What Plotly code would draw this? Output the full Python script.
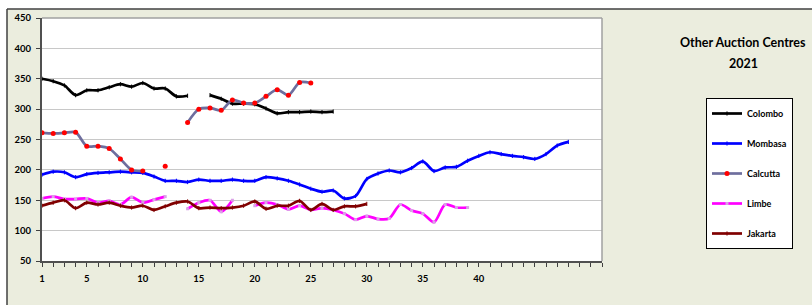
import plotly.graph_objects as go

weeks = list(range(1, 49))

colombo = [350, 346, 339, 323, 331, 331, 336, 341, 337, 343, 334, 334, 321, 322, None,
           323, 317, 309, 309, 308, 301, 293, 295, 295, 296, 295, 296]
mombasa = [192, 197, 196, 188, 193, 195, 196, 197, 196, 195, 189, 182, 182, 180, 184,
           182, 182, 184, 182, 182, 188, 186, 182, 176, 169, 164, 166, 153, 157, 185,
           194, 199, 196, 203, 214, 198, 204, 205, 215, 223, 229, 226, 223, 221, 218,
           226, 240, 246]
calcutta = [261, 260, 261, 262, 239, 239, 235, 218, 200, 198, None, 206, None, 278, 300,
            302, 298, 315, 310, 310, 321, 332, 323, 344, 343]
limbe = [153, 156, 152, 152, 153, 146, 149, 143, 155, 146, 151, 156, None, 136, 146,
         150, 131, 150, None, 141, 146, 143, 135, 141, 134, 137, 134, 128, 118, 124,
         119, 120, 143, 133, 128, 114, 143, 138, 138]
jakarta = [141, 146, 150, 137, 146, 143, 146, 141, 138, 141, 134, 140, 146, 148, 137,
           138, 137, 138, 141, 148, 136, 141, 141, 149, 134, 144, 134, 140, 140, 144]

x_tick_vals = list(range(1, 52))
x_tick_labels = ["1", "5", "10", "15", "20", "25", "30", "35", "40"]
y_tick_vals = [50, 100, 150, 200, 250, 300, 350, 400, 450]

title_line1 = "Other Auction Centres"
title_line2 = "2021"

FONT = "Lato"
BG = "#EBEDDE"

ticktext = [str(v) if str(v) in x_tick_labels else "" for v in x_tick_vals]

series = [
    ("Colombo", colombo, "#000000", dict(size=3, color="#000000", symbol="line-ns-open", line=dict(width=1, color="#000000"))),
    ("Mombasa", mombasa, "#0000FF", dict(size=3, color="#0000FF", symbol="line-ns-open", line=dict(width=1, color="#0000FF"))),
    ("Calcutta", calcutta, "#6E6E9E", dict(size=5, color="#FF0000", symbol="circle")),
    ("Limbe", limbe, "#FF00FF", dict(size=3, color="#D9A3E6", symbol="square")),
    ("Jakarta", jakarta, "#800000", dict(size=3, color="#800000", symbol="line-ns-open", line=dict(width=1, color="#800000"))),
]

fig = go.Figure()
for name, vals, col, mk in series:
    fig.add_trace(go.Scatter(
        x=weeks[:len(vals)], y=vals, name=name, legendgroup=name,
        mode="lines+markers",
        line=dict(color=col, width=2.7, shape="spline", smoothing=0.8),
        marker=mk,
    ))

W0, W1, H0, H1 = 42, 602, 18, 261


def px(x):
    return (x - W0) / (W1 - W0)


def py(y):
    return (H1 - y) / (H1 - H0)


shapes = [
    # white strips outside chart frame
    dict(type="rect", xref="paper", yref="paper", x0=px(-5), x1=px(7), y0=py(320), y1=py(-5),
         fillcolor="white", line=dict(width=0), layer="below"),
    dict(type="rect", xref="paper", yref="paper", x0=px(-5), x1=px(820), y0=py(9), y1=py(-5),
         fillcolor="white", line=dict(width=0), layer="below"),
    # chart frame
    dict(type="line", xref="paper", yref="paper", x0=px(7), x1=px(820), y0=py(9), y1=py(9),
         line=dict(color="#404040", width=1.5), layer="below"),
    dict(type="line", xref="paper", yref="paper", x0=px(7), x1=px(7), y0=py(9), y1=py(320),
         line=dict(color="#404040", width=1.5), layer="below"),
    # plot area border (top / right)
    dict(type="line", xref="paper", yref="paper", x0=0, x1=1, y0=1, y1=1,
         line=dict(color="#A0A0A0", width=1.5), layer="above"),
    dict(type="line", xref="paper", yref="paper", x0=1, x1=1, y0=0, y1=1,
         line=dict(color="#A0A0A0", width=1.5), layer="above"),
]

fig.update_layout(
    width=812, height=305,
    margin=dict(l=W0, r=812 - W1, t=H0, b=305 - H1, pad=0),
    paper_bgcolor=BG, plot_bgcolor="white",
    font=dict(family=FONT, color="#000000"),
    showlegend=True,
    legend=dict(
        x=px(706), y=py(98), xanchor="left", yanchor="top",
        bgcolor="white", bordercolor="#000000", borderwidth=1,
        font=dict(family=FONT, size=9, weight="bold", color="#000000"),
        traceorder="grouped", tracegroupgap=11, itemwidth=30,
    ),
    shapes=shapes,
    annotations=[
        dict(text=title_line1, xref="paper", yref="paper", x=px(743), y=py(43),
             xanchor="center", yanchor="middle", showarrow=False,
             font=dict(family=FONT, size=12.5, weight="bold", color="#000000")),
        dict(text=title_line2, xref="paper", yref="paper", x=px(743), y=py(63),
             xanchor="center", yanchor="middle", showarrow=False,
             font=dict(family=FONT, size=12.5, weight="bold", color="#000000")),
    ],
)

fig.update_xaxes(
    range=[1, 51], tickmode="array", tickvals=x_tick_vals, ticktext=ticktext,
    ticks="outside", ticklen=4, tickwidth=1, tickcolor="#404040",
    showline=True, linecolor="#505050", linewidth=2, showgrid=False, zeroline=False,
    tickfont=dict(family=FONT, size=9.5, weight="bold", color="#000000"),
    ticklabelstandoff=4,
)
fig.update_yaxes(
    range=[50, 450], tickmode="array", tickvals=y_tick_vals,
    ticks="outside", ticklen=4, tickwidth=1, tickcolor="#404040",
    showline=True, linecolor="#505050", linewidth=2,
    showgrid=True, gridcolor="#C8C8C8", gridwidth=1, zeroline=False,
    tickfont=dict(family=FONT, size=9.5, weight="bold", color="#000000"),
    ticklabelstandoff=3,
)

fig.write_html("out.html", config={"displayModeBar": False},
               post_script="document.body.style.margin='0px';")
